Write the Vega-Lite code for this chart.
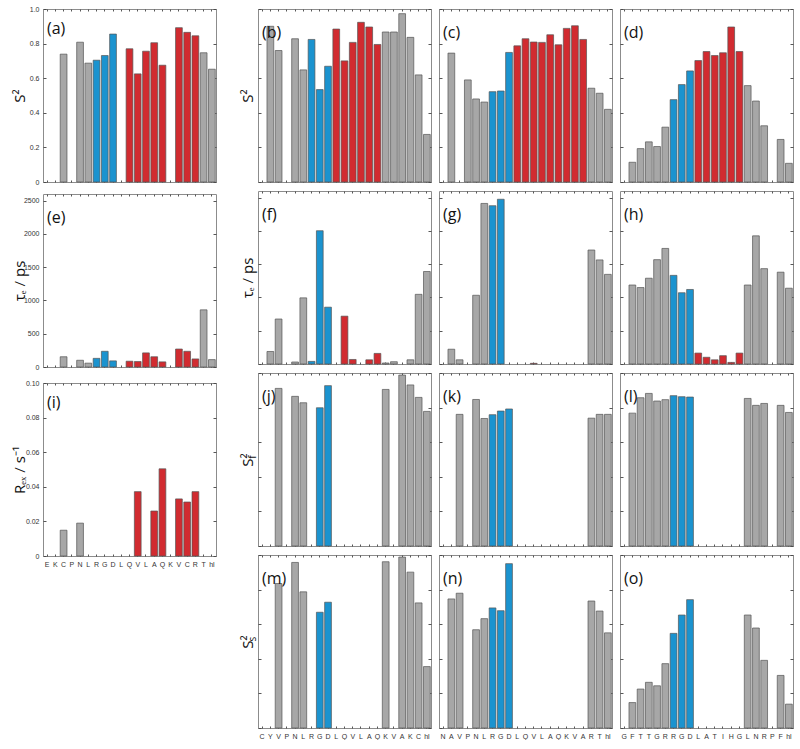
{
 "$schema": "https://vega.github.io/schema/vega-lite/v6.json",
 "padding": {"left": 11, "top": 4, "right": 0, "bottom": 0},
 "background": "white",
 "datasets": {
  "a": [{"i":2,"v":0.739,"c":"g"},{"i":4,"v":0.808,"c":"g"},{"i":5,"v":0.687,"c":"g"},{"i":6,"v":0.704,"c":"b"},{"i":7,"v":0.731,"c":"b"},{"i":8,"v":0.855,"c":"b"},{"i":10,"v":0.77,"c":"r"},{"i":11,"v":0.625,"c":"r"},{"i":12,"v":0.756,"c":"r"},{"i":13,"v":0.805,"c":"r"},{"i":14,"v":0.675,"c":"r"},{"i":16,"v":0.892,"c":"r"},{"i":17,"v":0.865,"c":"r"},{"i":18,"v":0.845,"c":"r"},{"i":19,"v":0.747,"c":"g"},{"i":20,"v":0.652,"c":"g"}],
  "e": [{"i":2,"v":154,"c":"g"},{"i":4,"v":101,"c":"g"},{"i":5,"v":58,"c":"g"},{"i":6,"v":130,"c":"b"},{"i":7,"v":236,"c":"b"},{"i":8,"v":92,"c":"b"},{"i":10,"v":87,"c":"r"},{"i":11,"v":82,"c":"r"},{"i":12,"v":212,"c":"r"},{"i":13,"v":154,"c":"r"},{"i":14,"v":77,"c":"r"},{"i":16,"v":270,"c":"r"},{"i":17,"v":236,"c":"r"},{"i":18,"v":121,"c":"r"},{"i":19,"v":859,"c":"g"},{"i":20,"v":111,"c":"g"}],
  "i": [{"i":2,"v":0.0149,"c":"g"},{"i":4,"v":0.019,"c":"g"},{"i":11,"v":0.0372,"c":"r"},{"i":13,"v":0.026,"c":"r"},{"i":14,"v":0.0504,"c":"r"},{"i":16,"v":0.033,"c":"r"},{"i":17,"v":0.0312,"c":"r"},{"i":18,"v":0.0372,"c":"r"}],
  "b": [{"i":1,"v":0.9,"c":"g"},{"i":2,"v":0.76,"c":"g"},{"i":4,"v":0.828,"c":"g"},{"i":5,"v":0.648,"c":"g"},{"i":6,"v":0.824,"c":"b"},{"i":7,"v":0.534,"c":"b"},{"i":8,"v":0.669,"c":"b"},{"i":9,"v":0.884,"c":"r"},{"i":10,"v":0.7,"c":"r"},{"i":11,"v":0.807,"c":"r"},{"i":12,"v":0.923,"c":"r"},{"i":13,"v":0.896,"c":"r"},{"i":14,"v":0.795,"c":"r"},{"i":15,"v":0.867,"c":"g"},{"i":16,"v":0.867,"c":"g"},{"i":17,"v":0.973,"c":"g"},{"i":18,"v":0.836,"c":"g"},{"i":19,"v":0.619,"c":"g"},{"i":20,"v":0.275,"c":"g"}],
  "f": [{"i":1,"v":188,"c":"g"},{"i":2,"v":676,"c":"g"},{"i":4,"v":30,"c":"g"},{"i":5,"v":994,"c":"g"},{"i":6,"v":39,"c":"b"},{"i":7,"v":2003,"c":"b"},{"i":8,"v":854,"c":"b"},{"i":10,"v":719,"c":"r"},{"i":11,"v":68,"c":"r"},{"i":13,"v":63,"c":"r"},{"i":14,"v":159,"c":"r"},{"i":15,"v":15,"c":"g"},{"i":16,"v":34,"c":"g"},{"i":18,"v":63,"c":"g"},{"i":19,"v":1047,"c":"g"},{"i":20,"v":1390,"c":"g"}],
  "j": [{"i":2,"v":0.911,"c":"g"},{"i":4,"v":0.865,"c":"g"},{"i":5,"v":0.828,"c":"g"},{"i":7,"v":0.799,"c":"b"},{"i":8,"v":0.927,"c":"b"},{"i":15,"v":0.905,"c":"g"},{"i":17,"v":0.988,"c":"g"},{"i":18,"v":0.931,"c":"g"},{"i":19,"v":0.859,"c":"g"},{"i":20,"v":0.778,"c":"g"}],
  "m": [{"i":2,"v":0.835,"c":"g"},{"i":4,"v":0.957,"c":"g"},{"i":5,"v":0.787,"c":"g"},{"i":7,"v":0.669,"c":"b"},{"i":8,"v":0.727,"c":"b"},{"i":15,"v":0.961,"c":"g"},{"i":17,"v":0.988,"c":"g"},{"i":18,"v":0.901,"c":"g"},{"i":19,"v":0.723,"c":"g"},{"i":20,"v":0.355,"c":"g"}],
  "c": [{"i":1,"v":0.745,"c":"g"},{"i":3,"v":0.59,"c":"g"},{"i":4,"v":0.48,"c":"g"},{"i":5,"v":0.462,"c":"g"},{"i":6,"v":0.522,"c":"b"},{"i":7,"v":0.526,"c":"b"},{"i":8,"v":0.749,"c":"b"},{"i":9,"v":0.787,"c":"r"},{"i":10,"v":0.828,"c":"r"},{"i":11,"v":0.809,"c":"r"},{"i":12,"v":0.807,"c":"r"},{"i":13,"v":0.851,"c":"r"},{"i":14,"v":0.793,"c":"r"},{"i":15,"v":0.888,"c":"r"},{"i":16,"v":0.903,"c":"r"},{"i":17,"v":0.824,"c":"r"},{"i":18,"v":0.542,"c":"g"},{"i":19,"v":0.513,"c":"g"},{"i":20,"v":0.42,"c":"g"}],
  "g": [{"i":1,"v":222,"c":"g"},{"i":2,"v":63,"c":"g"},{"i":4,"v":1033,"c":"g"},{"i":5,"v":2413,"c":"g"},{"i":6,"v":2379,"c":"b"},{"i":7,"v":2476,"c":"b"},{"i":11,"v":10,"c":"r"},{"i":18,"v":1713,"c":"g"},{"i":19,"v":1564,"c":"g"},{"i":20,"v":1347,"c":"g"}],
  "k": [{"i":2,"v":0.761,"c":"g"},{"i":4,"v":0.847,"c":"g"},{"i":5,"v":0.737,"c":"g"},{"i":6,"v":0.759,"c":"b"},{"i":7,"v":0.78,"c":"b"},{"i":8,"v":0.792,"c":"b"},{"i":18,"v":0.739,"c":"g"},{"i":19,"v":0.761,"c":"g"},{"i":20,"v":0.761,"c":"g"}],
  "n": [{"i":1,"v":0.746,"c":"g"},{"i":2,"v":0.779,"c":"g"},{"i":4,"v":0.568,"c":"g"},{"i":5,"v":0.632,"c":"g"},{"i":6,"v":0.694,"c":"b"},{"i":7,"v":0.678,"c":"b"},{"i":8,"v":0.95,"c":"b"},{"i":18,"v":0.734,"c":"g"},{"i":19,"v":0.676,"c":"g"},{"i":20,"v":0.55,"c":"g"}],
  "d": [{"i":1,"v":0.114,"c":"g"},{"i":2,"v":0.193,"c":"g"},{"i":3,"v":0.232,"c":"g"},{"i":4,"v":0.205,"c":"g"},{"i":5,"v":0.317,"c":"g"},{"i":6,"v":0.476,"c":"b"},{"i":7,"v":0.563,"c":"b"},{"i":8,"v":0.642,"c":"b"},{"i":9,"v":0.702,"c":"r"},{"i":10,"v":0.754,"c":"r"},{"i":11,"v":0.731,"c":"r"},{"i":12,"v":0.747,"c":"r"},{"i":13,"v":0.896,"c":"r"},{"i":14,"v":0.754,"c":"r"},{"i":15,"v":0.557,"c":"g"},{"i":16,"v":0.468,"c":"g"},{"i":17,"v":0.325,"c":"g"},{"i":19,"v":0.246,"c":"g"},{"i":20,"v":0.108,"c":"g"}],
  "h": [{"i":1,"v":1187,"c":"g"},{"i":2,"v":1149,"c":"g"},{"i":3,"v":1289,"c":"g"},{"i":4,"v":1568,"c":"g"},{"i":5,"v":1737,"c":"g"},{"i":6,"v":1332,"c":"b"},{"i":7,"v":1071,"c":"b"},{"i":8,"v":1120,"c":"b"},{"i":9,"v":164,"c":"r"},{"i":10,"v":101,"c":"r"},{"i":11,"v":63,"c":"r"},{"i":12,"v":125,"c":"r"},{"i":13,"v":24,"c":"r"},{"i":14,"v":164,"c":"r"},{"i":15,"v":1187,"c":"g"},{"i":16,"v":1926,"c":"g"},{"i":17,"v":1433,"c":"g"},{"i":19,"v":1380,"c":"g"},{"i":20,"v":1139,"c":"g"}],
  "l": [{"i":1,"v":0.768,"c":"g"},{"i":2,"v":0.857,"c":"g"},{"i":3,"v":0.882,"c":"g"},{"i":4,"v":0.838,"c":"g"},{"i":5,"v":0.846,"c":"g"},{"i":6,"v":0.869,"c":"b"},{"i":7,"v":0.863,"c":"b"},{"i":8,"v":0.861,"c":"b"},{"i":15,"v":0.853,"c":"g"},{"i":16,"v":0.813,"c":"g"},{"i":17,"v":0.824,"c":"g"},{"i":19,"v":0.813,"c":"g"},{"i":20,"v":0.772,"c":"g"}],
  "o": [{"i":1,"v":0.147,"c":"g"},{"i":2,"v":0.225,"c":"g"},{"i":3,"v":0.264,"c":"g"},{"i":4,"v":0.244,"c":"g"},{"i":5,"v":0.372,"c":"g"},{"i":6,"v":0.547,"c":"b"},{"i":7,"v":0.653,"c":"b"},{"i":8,"v":0.742,"c":"b"},{"i":15,"v":0.653,"c":"g"},{"i":16,"v":0.578,"c":"g"},{"i":17,"v":0.391,"c":"g"},{"i":19,"v":0.304,"c":"g"},{"i":20,"v":0.138,"c":"g"}]
 },
 "spacing": 22,
 "hconcat": [
  {"spacing": 7, "vconcat": [
   {"width": 173, "height": 173, "title": "(a)", "data": {"name": "a"},
    "layer": [
     {"mark": "bar", "encoding": {
       "x": {"field": "i", "type": "ordinal", "scale": {"domain": [0,1,2,3,4,5,6,7,8,9,10,11,12,13,14,15,16,17,18,19,20], "paddingInner": 0.18, "paddingOuter": 0.09}, "axis": {"orient": "bottom", "labels": false, "title": null}},
       "y": {"field": "v", "type": "quantitative", "scale": {"domain": [0, 1]}, "axis": {"orient": "left", "values": [0,0.2,0.4,0.6,0.8,1], "labels": true, "labelExpr": "datum.value == 0 ? '0' : format(datum.value, '.1f')", "title": "S²", "titleX": -22}},
       "color": {"field": "c", "type": "nominal", "scale": {"domain": ["g","b","r"], "range": ["#a7a7a7","#1b93cf","#d12b30"]}, "legend": null}}},
     {"mark": {"type": "bar", "opacity": 0}, "encoding": {
       "x": {"field": "i", "type": "ordinal", "axis": {"orient": "top", "labels": false, "title": null}},
       "y": {"field": "v", "type": "quantitative", "axis": {"orient": "right", "values": [0,0.2,0.4,0.6,0.8,1], "labels": false, "title": null}}}}
    ],
    "resolve": {"axis": {"x": "independent", "y": "independent"}}},
   {"width": 173, "height": 173, "title": "(e)", "data": {"name": "e"},
    "layer": [
     {"mark": "bar", "encoding": {
       "x": {"field": "i", "type": "ordinal", "scale": {"domain": [0,1,2,3,4,5,6,7,8,9,10,11,12,13,14,15,16,17,18,19,20], "paddingInner": 0.18, "paddingOuter": 0.09}, "axis": {"orient": "bottom", "labels": false, "title": null}},
       "y": {"field": "v", "type": "quantitative", "scale": {"domain": [0, 2500]}, "axis": {"orient": "left", "values": [0,500,1000,1500,2000,2500], "labels": true, "format": "d", "title": "τₑ / ps", "titleX": -22}},
       "color": {"field": "c", "type": "nominal", "scale": {"domain": ["g","b","r"], "range": ["#a7a7a7","#1b93cf","#d12b30"]}, "legend": null}}},
     {"mark": {"type": "bar", "opacity": 0}, "encoding": {
       "x": {"field": "i", "type": "ordinal", "axis": {"orient": "top", "labels": false, "title": null}},
       "y": {"field": "v", "type": "quantitative", "axis": {"orient": "right", "values": [0,500,1000,1500,2000,2500], "labels": false, "title": null}}}}
    ],
    "resolve": {"axis": {"x": "independent", "y": "independent"}}},
   {"width": 173, "height": 173, "title": "(i)", "data": {"name": "i"},
    "layer": [
     {"mark": "bar", "encoding": {
       "x": {"field": "i", "type": "ordinal", "scale": {"domain": [0,1,2,3,4,5,6,7,8,9,10,11,12,13,14,15,16,17,18,19,20], "paddingInner": 0.18, "paddingOuter": 0.09}, "axis": {"orient": "bottom", "labels": true, "labelExpr": "['E','K','C','P','N','L','R','G','D','L','Q','V','L','A','Q','K','V','C','R','T','hl'][datum.value]", "title": null}},
       "y": {"field": "v", "type": "quantitative", "scale": {"domain": [0, 0.1]}, "axis": {"orient": "left", "values": [0,0.02,0.04,0.06,0.08,0.1], "labels": true, "labelExpr": "datum.value == 0 ? '0' : format(datum.value, '.2f')", "title": "Rₑₓ / s⁻¹", "titleX": -22}},
       "color": {"field": "c", "type": "nominal", "scale": {"domain": ["g","b","r"], "range": ["#a7a7a7","#1b93cf","#d12b30"]}, "legend": null}}},
     {"mark": {"type": "bar", "opacity": 0}, "encoding": {
       "x": {"field": "i", "type": "ordinal", "axis": {"orient": "top", "labels": false, "title": null}},
       "y": {"field": "v", "type": "quantitative", "axis": {"orient": "right", "values": [0,0.02,0.04,0.06,0.08,0.1], "labels": false, "title": null}}}}
    ],
    "resolve": {"axis": {"x": "independent", "y": "independent"}}}
  ]},
  {"spacing": 6, "hconcat": [
   {"spacing": 7, "vconcat": [
    {"width": 173, "height": 173, "title": "(b)", "data": {"name": "b"},
     "layer": [
      {"mark": "bar", "encoding": {
        "x": {"field": "i", "type": "ordinal", "scale": {"domain": [0,1,2,3,4,5,6,7,8,9,10,11,12,13,14,15,16,17,18,19,20], "paddingInner": 0.18, "paddingOuter": 0.09}, "axis": {"orient": "bottom", "labels": false, "title": null}},
        "y": {"field": "v", "type": "quantitative", "scale": {"domain": [0, 1]}, "axis": {"orient": "left", "values": [0,0.2,0.4,0.6,0.8,1], "labels": false, "title": "S²", "titleX": -9}},
        "color": {"field": "c", "type": "nominal", "scale": {"domain": ["g","b","r"], "range": ["#a7a7a7","#1b93cf","#d12b30"]}, "legend": null}}},
      {"mark": {"type": "bar", "opacity": 0}, "encoding": {
        "x": {"field": "i", "type": "ordinal", "axis": {"orient": "top", "labels": false, "title": null}},
        "y": {"field": "v", "type": "quantitative", "axis": {"orient": "right", "values": [0,0.2,0.4,0.6,0.8,1], "labels": false, "title": null}}}}
     ],
     "resolve": {"axis": {"x": "independent", "y": "independent"}}},
    {"width": 173, "height": 173, "title": "(f)", "data": {"name": "f"},
     "layer": [
      {"mark": "bar", "encoding": {
        "x": {"field": "i", "type": "ordinal", "scale": {"domain": [0,1,2,3,4,5,6,7,8,9,10,11,12,13,14,15,16,17,18,19,20], "paddingInner": 0.18, "paddingOuter": 0.09}, "axis": {"orient": "bottom", "labels": false, "title": null}},
        "y": {"field": "v", "type": "quantitative", "scale": {"domain": [0, 2500]}, "axis": {"orient": "left", "values": [0,500,1000,1500,2000,2500], "labels": false, "title": "τₑ / ps", "titleX": -9}},
        "color": {"field": "c", "type": "nominal", "scale": {"domain": ["g","b","r"], "range": ["#a7a7a7","#1b93cf","#d12b30"]}, "legend": null}}},
      {"mark": {"type": "bar", "opacity": 0}, "encoding": {
        "x": {"field": "i", "type": "ordinal", "axis": {"orient": "top", "labels": false, "title": null}},
        "y": {"field": "v", "type": "quantitative", "axis": {"orient": "right", "values": [0,500,1000,1500,2000,2500], "labels": false, "title": null}}}}
     ],
     "resolve": {"axis": {"x": "independent", "y": "independent"}}},
    {"width": 173, "height": 173, "title": "(j)", "data": {"name": "j"},
     "layer": [
      {"mark": "bar", "encoding": {
        "x": {"field": "i", "type": "ordinal", "scale": {"domain": [0,1,2,3,4,5,6,7,8,9,10,11,12,13,14,15,16,17,18,19,20], "paddingInner": 0.18, "paddingOuter": 0.09}, "axis": {"orient": "bottom", "labels": false, "title": null}},
        "y": {"field": "v", "type": "quantitative", "scale": {"domain": [0, 1]}, "axis": {"orient": "left", "values": [0,0.2,0.4,0.6,0.8,1], "labels": false, "title": "S²", "titleX": -9, "titleY": 86.5}},
        "color": {"field": "c", "type": "nominal", "scale": {"domain": ["g","b","r"], "range": ["#a7a7a7","#1b93cf","#d12b30"]}, "legend": null}}},
      {"mark": {"type": "bar", "opacity": 0}, "encoding": {
        "x": {"field": "i", "type": "ordinal", "axis": {"orient": "top", "labels": false, "title": null}},
        "y": {"field": "v", "type": "quantitative", "axis": {"orient": "right", "values": [0,0.2,0.4,0.6,0.8,1], "labels": false, "title": "f", "titleFontSize": 10, "titleAngle": -90, "titleAlign": "center", "titleBaseline": "alphabetic", "titleX": -173, "titleY": 83.5}}}}
     ],
     "resolve": {"axis": {"x": "independent", "y": "independent"}}},
    {"width": 173, "height": 173, "title": "(m)", "data": {"name": "m"},
     "layer": [
      {"mark": "bar", "encoding": {
        "x": {"field": "i", "type": "ordinal", "scale": {"domain": [0,1,2,3,4,5,6,7,8,9,10,11,12,13,14,15,16,17,18,19,20], "paddingInner": 0.18, "paddingOuter": 0.09}, "axis": {"orient": "bottom", "labels": true, "labelExpr": "['C','Y','V','P','N','L','R','G','D','L','Q','V','L','A','Q','K','V','A','K','C','hl'][datum.value]", "title": null}},
        "y": {"field": "v", "type": "quantitative", "scale": {"domain": [0, 1]}, "axis": {"orient": "left", "values": [0,0.2,0.4,0.6,0.8,1], "labels": false, "title": "S²", "titleX": -9, "titleY": 86.5}},
        "color": {"field": "c", "type": "nominal", "scale": {"domain": ["g","b","r"], "range": ["#a7a7a7","#1b93cf","#d12b30"]}, "legend": null}}},
      {"mark": {"type": "bar", "opacity": 0}, "encoding": {
        "x": {"field": "i", "type": "ordinal", "axis": {"orient": "top", "labels": false, "title": null}},
        "y": {"field": "v", "type": "quantitative", "axis": {"orient": "right", "values": [0,0.2,0.4,0.6,0.8,1], "labels": false, "title": "s", "titleFontSize": 10, "titleAngle": -90, "titleAlign": "center", "titleBaseline": "alphabetic", "titleX": -173, "titleY": 83.5}}}}
     ],
     "resolve": {"axis": {"x": "independent", "y": "independent"}}}
   ]},
   {"spacing": 7, "vconcat": [
    {"width": 173, "height": 173, "title": "(c)", "data": {"name": "c"},
     "layer": [
      {"mark": "bar", "encoding": {
        "x": {"field": "i", "type": "ordinal", "scale": {"domain": [0,1,2,3,4,5,6,7,8,9,10,11,12,13,14,15,16,17,18,19,20], "paddingInner": 0.18, "paddingOuter": 0.09}, "axis": {"orient": "bottom", "labels": false, "title": null}},
        "y": {"field": "v", "type": "quantitative", "scale": {"domain": [0, 1]}, "axis": {"orient": "left", "values": [0,0.2,0.4,0.6,0.8,1], "labels": false, "title": null}},
        "color": {"field": "c", "type": "nominal", "scale": {"domain": ["g","b","r"], "range": ["#a7a7a7","#1b93cf","#d12b30"]}, "legend": null}}},
      {"mark": {"type": "bar", "opacity": 0}, "encoding": {
        "x": {"field": "i", "type": "ordinal", "axis": {"orient": "top", "labels": false, "title": null}},
        "y": {"field": "v", "type": "quantitative", "axis": {"orient": "right", "values": [0,0.2,0.4,0.6,0.8,1], "labels": false, "title": null}}}}
     ],
     "resolve": {"axis": {"x": "independent", "y": "independent"}}},
    {"width": 173, "height": 173, "title": "(g)", "data": {"name": "g"},
     "layer": [
      {"mark": "bar", "encoding": {
        "x": {"field": "i", "type": "ordinal", "scale": {"domain": [0,1,2,3,4,5,6,7,8,9,10,11,12,13,14,15,16,17,18,19,20], "paddingInner": 0.18, "paddingOuter": 0.09}, "axis": {"orient": "bottom", "labels": false, "title": null}},
        "y": {"field": "v", "type": "quantitative", "scale": {"domain": [0, 2500]}, "axis": {"orient": "left", "values": [0,500,1000,1500,2000,2500], "labels": false, "title": null}},
        "color": {"field": "c", "type": "nominal", "scale": {"domain": ["g","b","r"], "range": ["#a7a7a7","#1b93cf","#d12b30"]}, "legend": null}}},
      {"mark": {"type": "bar", "opacity": 0}, "encoding": {
        "x": {"field": "i", "type": "ordinal", "axis": {"orient": "top", "labels": false, "title": null}},
        "y": {"field": "v", "type": "quantitative", "axis": {"orient": "right", "values": [0,500,1000,1500,2000,2500], "labels": false, "title": null}}}}
     ],
     "resolve": {"axis": {"x": "independent", "y": "independent"}}},
    {"width": 173, "height": 173, "title": "(k)", "data": {"name": "k"},
     "layer": [
      {"mark": "bar", "encoding": {
        "x": {"field": "i", "type": "ordinal", "scale": {"domain": [0,1,2,3,4,5,6,7,8,9,10,11,12,13,14,15,16,17,18,19,20], "paddingInner": 0.18, "paddingOuter": 0.09}, "axis": {"orient": "bottom", "labels": false, "title": null}},
        "y": {"field": "v", "type": "quantitative", "scale": {"domain": [0, 1]}, "axis": {"orient": "left", "values": [0,0.2,0.4,0.6,0.8,1], "labels": false, "title": null}},
        "color": {"field": "c", "type": "nominal", "scale": {"domain": ["g","b","r"], "range": ["#a7a7a7","#1b93cf","#d12b30"]}, "legend": null}}},
      {"mark": {"type": "bar", "opacity": 0}, "encoding": {
        "x": {"field": "i", "type": "ordinal", "axis": {"orient": "top", "labels": false, "title": null}},
        "y": {"field": "v", "type": "quantitative", "axis": {"orient": "right", "values": [0,0.2,0.4,0.6,0.8,1], "labels": false, "title": null}}}}
     ],
     "resolve": {"axis": {"x": "independent", "y": "independent"}}},
    {"width": 173, "height": 173, "title": "(n)", "data": {"name": "n"},
     "layer": [
      {"mark": "bar", "encoding": {
        "x": {"field": "i", "type": "ordinal", "scale": {"domain": [0,1,2,3,4,5,6,7,8,9,10,11,12,13,14,15,16,17,18,19,20], "paddingInner": 0.18, "paddingOuter": 0.09}, "axis": {"orient": "bottom", "labels": true, "labelExpr": "['N','A','V','P','N','L','R','G','D','L','Q','V','L','A','Q','K','V','A','R','T','hl'][datum.value]", "title": null}},
        "y": {"field": "v", "type": "quantitative", "scale": {"domain": [0, 1]}, "axis": {"orient": "left", "values": [0,0.2,0.4,0.6,0.8,1], "labels": false, "title": null}},
        "color": {"field": "c", "type": "nominal", "scale": {"domain": ["g","b","r"], "range": ["#a7a7a7","#1b93cf","#d12b30"]}, "legend": null}}},
      {"mark": {"type": "bar", "opacity": 0}, "encoding": {
        "x": {"field": "i", "type": "ordinal", "axis": {"orient": "top", "labels": false, "title": null}},
        "y": {"field": "v", "type": "quantitative", "axis": {"orient": "right", "values": [0,0.2,0.4,0.6,0.8,1], "labels": false, "title": null}}}}
     ],
     "resolve": {"axis": {"x": "independent", "y": "independent"}}}
   ]},
   {"spacing": 7, "vconcat": [
    {"width": 173, "height": 173, "title": "(d)", "data": {"name": "d"},
     "layer": [
      {"mark": "bar", "encoding": {
        "x": {"field": "i", "type": "ordinal", "scale": {"domain": [0,1,2,3,4,5,6,7,8,9,10,11,12,13,14,15,16,17,18,19,20], "paddingInner": 0.18, "paddingOuter": 0.09}, "axis": {"orient": "bottom", "labels": false, "title": null}},
        "y": {"field": "v", "type": "quantitative", "scale": {"domain": [0, 1]}, "axis": {"orient": "left", "values": [0,0.2,0.4,0.6,0.8,1], "labels": false, "title": null}},
        "color": {"field": "c", "type": "nominal", "scale": {"domain": ["g","b","r"], "range": ["#a7a7a7","#1b93cf","#d12b30"]}, "legend": null}}},
      {"mark": {"type": "bar", "opacity": 0}, "encoding": {
        "x": {"field": "i", "type": "ordinal", "axis": {"orient": "top", "labels": false, "title": null}},
        "y": {"field": "v", "type": "quantitative", "axis": {"orient": "right", "values": [0,0.2,0.4,0.6,0.8,1], "labels": false, "title": null}}}}
     ],
     "resolve": {"axis": {"x": "independent", "y": "independent"}}},
    {"width": 173, "height": 173, "title": "(h)", "data": {"name": "h"},
     "layer": [
      {"mark": "bar", "encoding": {
        "x": {"field": "i", "type": "ordinal", "scale": {"domain": [0,1,2,3,4,5,6,7,8,9,10,11,12,13,14,15,16,17,18,19,20], "paddingInner": 0.18, "paddingOuter": 0.09}, "axis": {"orient": "bottom", "labels": false, "title": null}},
        "y": {"field": "v", "type": "quantitative", "scale": {"domain": [0, 2500]}, "axis": {"orient": "left", "values": [0,500,1000,1500,2000,2500], "labels": false, "title": null}},
        "color": {"field": "c", "type": "nominal", "scale": {"domain": ["g","b","r"], "range": ["#a7a7a7","#1b93cf","#d12b30"]}, "legend": null}}},
      {"mark": {"type": "bar", "opacity": 0}, "encoding": {
        "x": {"field": "i", "type": "ordinal", "axis": {"orient": "top", "labels": false, "title": null}},
        "y": {"field": "v", "type": "quantitative", "axis": {"orient": "right", "values": [0,500,1000,1500,2000,2500], "labels": false, "title": null}}}}
     ],
     "resolve": {"axis": {"x": "independent", "y": "independent"}}},
    {"width": 173, "height": 173, "title": "(l)", "data": {"name": "l"},
     "layer": [
      {"mark": "bar", "encoding": {
        "x": {"field": "i", "type": "ordinal", "scale": {"domain": [0,1,2,3,4,5,6,7,8,9,10,11,12,13,14,15,16,17,18,19,20], "paddingInner": 0.18, "paddingOuter": 0.09}, "axis": {"orient": "bottom", "labels": false, "title": null}},
        "y": {"field": "v", "type": "quantitative", "scale": {"domain": [0, 1]}, "axis": {"orient": "left", "values": [0,0.2,0.4,0.6,0.8,1], "labels": false, "title": null}},
        "color": {"field": "c", "type": "nominal", "scale": {"domain": ["g","b","r"], "range": ["#a7a7a7","#1b93cf","#d12b30"]}, "legend": null}}},
      {"mark": {"type": "bar", "opacity": 0}, "encoding": {
        "x": {"field": "i", "type": "ordinal", "axis": {"orient": "top", "labels": false, "title": null}},
        "y": {"field": "v", "type": "quantitative", "axis": {"orient": "right", "values": [0,0.2,0.4,0.6,0.8,1], "labels": false, "title": null}}}}
     ],
     "resolve": {"axis": {"x": "independent", "y": "independent"}}},
    {"width": 173, "height": 173, "title": "(o)", "data": {"name": "o"},
     "layer": [
      {"mark": "bar", "encoding": {
        "x": {"field": "i", "type": "ordinal", "scale": {"domain": [0,1,2,3,4,5,6,7,8,9,10,11,12,13,14,15,16,17,18,19,20], "paddingInner": 0.18, "paddingOuter": 0.09}, "axis": {"orient": "bottom", "labels": true, "labelExpr": "['G','F','T','T','G','R','R','G','D','L','A','T','I','H','G','L','N','R','P','F','hl'][datum.value]", "title": null}},
        "y": {"field": "v", "type": "quantitative", "scale": {"domain": [0, 1]}, "axis": {"orient": "left", "values": [0,0.2,0.4,0.6,0.8,1], "labels": false, "title": null}},
        "color": {"field": "c", "type": "nominal", "scale": {"domain": ["g","b","r"], "range": ["#a7a7a7","#1b93cf","#d12b30"]}, "legend": null}}},
      {"mark": {"type": "bar", "opacity": 0}, "encoding": {
        "x": {"field": "i", "type": "ordinal", "axis": {"orient": "top", "labels": false, "title": null}},
        "y": {"field": "v", "type": "quantitative", "axis": {"orient": "right", "values": [0,0.2,0.4,0.6,0.8,1], "labels": false, "title": null}}}}
     ],
     "resolve": {"axis": {"x": "independent", "y": "independent"}}}
   ]}
  ]}
 ],
 "config": {
  "view": {"stroke": "#8c8c8c", "strokeWidth": 1},
  "bar": {"stroke": "#555555", "strokeWidth": 0.7},
  "axis": {"domain": false, "grid": false, "tickSize": 3, "offset": -3, "tickColor": "#444444", "tickWidth": 0.9, "labelFont": "Liberation Sans", "labelFontSize": 7, "labelColor": "#333333", "labelPadding": 4, "titleFont": "Open Sans", "titleFontSize": 15, "titleFontWeight": "normal", "titleColor": "#111111", "titleBaseline": "alphabetic", "labelAngle": 0},
  "axisX": {"tickSize": 2, "offset": -2},
  "title": {"anchor": "start", "frame": "group", "offset": -32, "dx": 4, "fontSize": 16, "fontWeight": "normal", "font": "Open Sans", "color": "#111111", "baseline": "bottom"}
 }
}
